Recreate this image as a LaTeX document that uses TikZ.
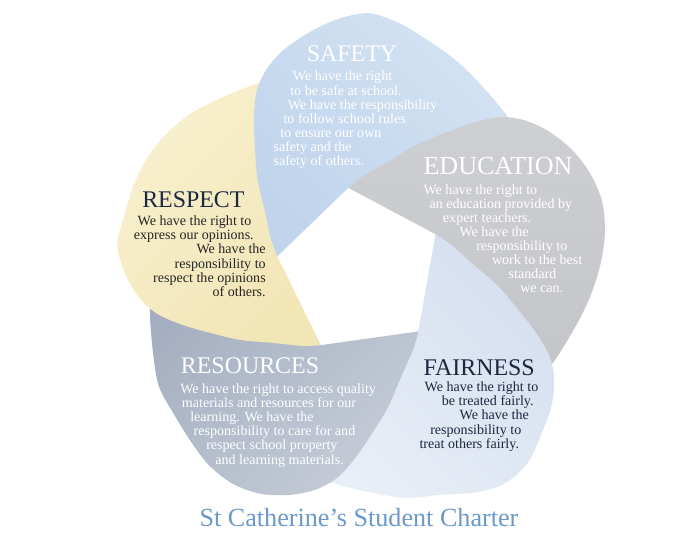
\documentclass[tikz,border=0pt]{standalone}
\usepackage{fontspec}
\setmainfont{Liberation Serif}
\definecolor{safetylight}{RGB}{212,227,243}
\definecolor{safetydark}{RGB}{192,212,236}
\definecolor{edulight}{RGB}{206,207,210}
\definecolor{edudark}{RGB}{195,196,200}
\definecolor{fairlight}{RGB}{233,239,247}
\definecolor{fairdark}{RGB}{213,223,239}
\definecolor{reslight}{RGB}{197,204,215}
\definecolor{resdark}{RGB}{164,174,192}
\definecolor{resplight}{RGB}{248,241,207}
\definecolor{respdark}{RGB}{242,229,182}
\definecolor{navy}{RGB}{28,40,66}
\definecolor{charterblue}{RGB}{108,153,203}
% one petal, tip on the positive x axis, hidden end under the next petal;
% #1..#4 widen or narrow the round end
\newcommand\petal[4]{(0:84) -- (-72:84) -- (-82:88) -- (-105:118) -- (-125:165) -- (-138:200)
  -- plot[smooth] coordinates {(-132:207) (-123:214) (-112:223) (-104:232) (-96:{241+#4})
     (-89:{248+#3}) (-82:{252+#2}) (-75:{250+#1}) (-68:244) (-61:234) (-55:222) (-50:207)
     (-45:185) (-39:160) (-32:138) (-22:112) (-10:95) (0:84)} -- cycle}

\begin{document}
\begin{tikzpicture}[
  x=0.025cm, y=0.025cm,
  title/.style={anchor=base, inner sep=0pt, font=\fontsize{17}{20}\selectfont},
  body/.style ={anchor=base west, align=left, inner sep=0pt, font=\fontsize{10}{10.03}\selectfont},
  respect/.style={rotate=-118, top color=resplight, bottom color=respdark, shading angle=45},
]
\fill[white] (-360,-282) rectangle (333,271);
\useasboundingbox (-360,-282) rectangle (333,271);

% petals, each one over the one before
\shade[respect] \petal{-8}{-10}{-7}{-3};
\shade[rotate=170, top color=safetylight, bottom color=safetydark, shading angle=-45] \petal{3}{6}{3}{0};
\shade[rotate=98, top color=edulight, bottom color=edudark] \petal{0}{0}{0}{0};
\shade[rotate=26, top color=fairlight, bottom color=fairdark, shading angle=135] \petal{5}{5}{1}{-3};
\shade[rotate=-46, top color=reslight, bottom color=resdark, shading angle=-135] \petal{-2}{-6}{-8}{-6};
% respect lies over resources again
\begin{scope}
  \clip (-360,-282) -- (-360,271) -- (-120,271) -- (-120,6) -- (333,6) -- (333,-282) -- cycle;
  \shade[respect] \petal{-8}{-10}{-7}{-3};
\end{scope}

\node[title, white] (safety) at (-8,209) {SAFETY};
\node[body, white] (safetytxt) at (-86.7,105.4) {%
  \hspace*{13.8pt}We have the right\\
  \hspace*{11.9pt}to be safe at school.\\
  \hspace*{10.2pt}We have the responsibility\\
  \hspace*{7.1pt}to follow school rules\\
  \hspace*{4.8pt}to ensure our own\\
  safety and the\\
  safety of others.};

\node[title, white, font=\fontsize{18.5}{22}\selectfont] (education) at (138,96) {EDUCATION};
\node[body, white] (educationtxt) at (63.3,-21.9) {%
  We have the right to\\
  \hspace*{4.3pt}an education provided by\\
  \hspace*{13.8pt}expert teachers.\\
  \hspace*{25.6pt}We have the\\
  \hspace*{37.5pt}responsibility to\\
  \hspace*{48.7pt}work to the best\\
  \hspace*{60.5pt}standard\\
  \hspace*{68.8pt}we can.};

\node[title, navy] (respect) at (-166.6,63.7) {RESPECT};
\node[body, anchor=base east, align=right, black!85] (respecttxt) at (-94,-25.3) {%
  We have the right to\kern10.2pt\\
  express our opinions.\kern8.5pt\\
  We have the\\
  responsibility to\\
  respect the opinions\\
  of others.};

\node[title, white] (resources) at (-110,-103) {RESOURCES};
\node[body, white] (resourcestxt) at (-180,-193) {%
  We have the right to access quality\\
  \hspace*{1.2pt}materials and resources for our\\
  \hspace*{7.1pt}learning. We have the\\
  \hspace*{9.5pt}responsibility to care for and\\
  \hspace*{18.5pt}respect school property\\
  \hspace*{24.9pt}and learning materials.};

\node[title, navy] (fairness) at (119.2,-104) {FAIRNESS};
\node[body, navy] (fairnesstxt) at (59.3,-177.2) {%
  \hspace*{3.6pt}We have the right to\\
  \hspace*{15.9pt}be treated fairly.\\
  \hspace*{28.5pt}We have the\\
  \hspace*{7.6pt}responsibility to\\
  treat others fairly.};

\node[anchor=base, inner sep=0pt, charterblue, font=\fontsize{18.6}{21}\selectfont]
  (charter) at (-1,-255.7) {St Catherine’s Student Charter};
\end{tikzpicture}
\end{document}
